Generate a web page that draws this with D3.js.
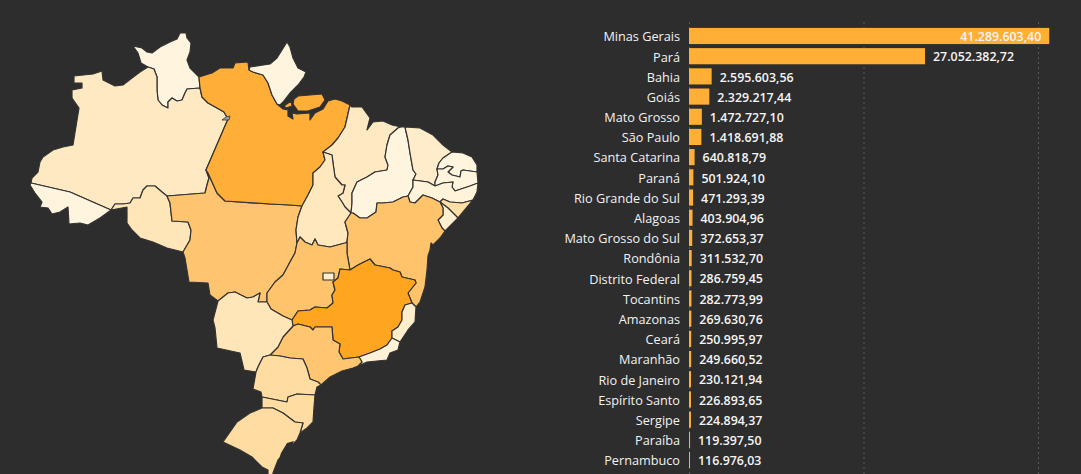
<!DOCTYPE html>
<html>
<head>
<meta charset="utf-8">
<script src="https://cdn.jsdelivr.net/npm/d3@7"></script>
<style>
  html, body { margin: 0; padding: 0; background: #2d2d2d; overflow: hidden; }
  text { font-family: "Open Sans", "Noto Sans", sans-serif; }
</style>
</head>
<body>
<svg id="chart" width="1081" height="474"></svg>
<script>
// bar values
const states = ["Minas Gerais", "Pará", "Bahia", "Goiás", "Mato Grosso", "São Paulo", "Santa Catarina", "Paraná",
  "Rio Grande do Sul", "Alagoas", "Mato Grosso do Sul", "Rondônia", "Distrito Federal", "Tocantins", "Amazonas",
  "Ceará", "Maranhão", "Rio de Janeiro", "Espírito Santo", "Sergipe", "Paraíba", "Pernambuco"];
const values = [41289603.40, 27052382.72, 2595603.56, 2329217.44, 1472727.10, 1418691.88, 640818.79, 501924.10,
  471293.39, 403904.96, 372653.37, 311532.70, 286759.45, 282773.99, 269630.76,
  250995.97, 249660.52, 230121.94, 226893.65, 224894.37, 119397.50, 116976.03];
const gridValues = [0, 20000000, 40000000];

const borders = {
  RR_N: [[148,67],[141,63],[138,53],[133,46],[142,48],[147,52],[152,53],[160,47],[170,42],[177,39],[180,33],[186,33],[187,38],[191,43],[190,52],[187,60],[190,68],[195,73],[199,77]],
  RR_PA: [[199,77],[200,88]],
  RR_AM: [[200,88],[187,89],[185,93],[182,100],[177,101],[172,98],[168,102],[168,108],[162,105],[158,100],[157,90],[157,77],[154,69],[148,67]],
  AM_N: [[148,67],[140,72],[132,78],[123,85],[115,86],[107,82],[103,80],[102,71],[93,74],[74,76],[74,83],[82,83],[82,88],[72,90],[72,98],[79,108],[73,145],[63,147],[53,150],[43,157],[40,162],[38,172],[32,178],[31,183]],
  AM_AC: [[31,183],[70,192],[111,210]],
  AM_RO: [[111,210],[115,204],[123,204],[130,203],[133,198],[140,198],[143,190],[147,186],[155,186],[162,192],[167,196]],
  AM_MT: [[167,196],[205,193],[207,185],[209,178],[206,170]],
  AM_PA: [[206,170],[228,119],[224,112],[217,108],[208,103],[202,97],[200,88]],
  AC_S: [[31,183],[30,185],[35,193],[42,202],[40,207],[48,208],[52,214],[60,212],[68,207],[69,224],[80,223],[88,225],[100,218],[111,210]],
  RO_W: [[111,210],[127,207],[127,223],[132,230],[140,238],[153,242],[167,248],[183,252]],
  RO_MT: [[167,196],[170,203],[172,221],[188,222],[191,230],[190,240],[183,252]],
  PA_MT: [[206,170],[208,173],[217,193],[225,201],[270,204],[290,205],[302,206]],
  MT_TO: [[302,206],[298,217],[296,230],[297,243]],
  MT_GO: [[297,243],[295,253],[290,262],[283,275],[275,282],[267,293],[267,302]],
  MT_MS: [[218,301],[228,293],[235,292],[247,298],[253,297],[260,293],[258,302],[267,302]],
  MT_W: [[183,252],[185,258],[187,270],[189,282],[208,283],[210,295],[218,301]],
  PA_N: [[199,77],[212,73],[220,68],[233,68],[235,63],[248,62],[249,70]],
  AP_PA: [[249,70],[253,72],[263,75],[268,83],[272,95],[277,104]],
  PA_E: [[277,104],[283,109],[288,110],[288,116],[293,119],[292,113],[297,114],[310,113],[310,120],[315,113],[323,109],[328,101],[335,99],[342,101],[350,105]],
  PA_MA: [[350,105],[345,127],[338,138],[332,145],[323,152]],
  PA_TO: [[323,152],[325,160],[320,167],[313,173],[313,185],[308,195],[302,206]],
  AP_C: [[249,70],[250,67],[270,64],[277,58],[287,42],[290,47],[293,58],[298,68],[306,72],[304,77],[298,85],[290,93],[283,102],[280,105],[277,104]],
  MARAJO: [[298,96],[322,94],[325,100],[320,107],[308,111],[298,111],[293,104],[294,99],[298,96]],
  ILHAS: [[284,106],[291,101],[292,106],[286,108],[284,106]],
  MA_C: [[350,105],[352,107],[362,107],[370,118],[367,130],[373,122],[383,121],[392,125],[401,127]],
  TO_MA: [[323,152],[332,155],[333,163],[335,177],[342,185],[345,185],[343,193],[338,196],[342,202],[345,207],[351,213]],
  MA_PI: [[351,213],[352,203],[352,193],[357,182],[367,177],[375,172],[387,170],[388,165],[385,157],[387,145],[390,135],[398,128],[401,127]],
  TO_GO: [[297,243],[300,237],[305,242],[312,245],[315,239],[318,245],[330,247],[345,243],[347,242]],
  BA_TO: [[347,242],[348,233],[345,222],[351,213]],
  PI_C: [[401,127],[405,127]],
  PI_CE: [[405,127],[408,140],[410,153],[413,170],[416,174],[413,180]],
  PI_PE: [[413,180],[413,187],[408,196]],
  PI_BA: [[408,196],[403,197],[393,202],[383,203],[377,203],[376,212],[367,218],[360,218],[353,213],[351,213]],
  CE_C: [[405,127],[420,128],[433,135],[443,145],[452,152]],
  CE_RN: [[452,152],[443,158],[439,163],[437,169]],
  CE_PB: [[437,169],[438,175],[435,182],[435,186]],
  CE_PE: [[435,186],[428,182],[413,180]],
  RN_C: [[452,152],[463,153],[472,157],[477,165],[477,172]],
  RN_PB: [[477,172],[463,170],[461,171],[460,177],[452,175],[448,172],[453,167],[448,166],[443,169],[437,169]],
  PB_C: [[477,172],[478,183]],
  PB_PE: [[478,183],[470,186],[458,190],[455,191],[452,187],[453,182],[443,183],[435,186]],
  PE_C: [[478,183],[477,192],[473,200]],
  PE_AL: [[473,200],[462,203],[450,202],[443,199],[440,202]],
  PE_BA: [[440,202],[432,198],[423,195],[415,203],[410,202],[408,196]],
  AL_C: [[473,200],[458,218]],
  AL_SE: [[458,218],[448,208],[440,202]],
  SE_C: [[445,231],[458,218]],
  BA_SE: [[440,202],[443,208],[443,215],[438,220],[442,228],[445,231]],
  BA_C: [[445,231],[440,238],[433,245],[431,243],[430,250],[428,256],[427,270],[425,287],[420,302],[416,307]],
  BA_ES: [[416,307],[412,303]],
  BA_MG: [[350,270],[358,265],[370,259],[375,265],[390,268],[393,270],[400,272],[402,277],[415,280],[416,283],[412,288],[408,293],[412,303]],
  GO_BA: [[347,242],[347,253],[350,270]],
  GO_MG: [[350,270],[340,269],[338,278],[333,282],[335,290],[332,295],[333,303],[327,308],[315,307],[310,310],[298,311],[292,320]],
  GO_MS: [[292,320],[283,316],[271,309],[267,302]],
  MG_ES: [[412,303],[405,305],[402,312],[402,320],[398,327],[392,331],[392,338]],
  MG_RJ: [[392,338],[387,345],[380,349],[370,353],[359,357]],
  MG_SP: [[359,357],[343,359],[339,352],[340,344],[333,340],[332,327],[325,327],[315,327],[313,330],[310,327],[298,324],[293,326]],
  MG_MS: [[293,326],[292,320]],
  ES_RJ: [[392,338],[400,342]],
  ES_C: [[400,342],[408,330],[415,322],[416,307]],
  RJ_C: [[400,342],[398,350],[390,353],[387,360],[377,361],[367,362],[358,366]],
  RJ_SP: [[358,366],[362,362],[359,357]],
  SP_MS: [[293,326],[283,337],[278,347],[270,355]],
  SP_PR: [[270,355],[280,356],[290,358],[303,359],[307,368],[310,379],[318,382],[321,385]],
  SP_C: [[321,385],[330,377],[342,371],[353,368],[358,366]],
  MS_PR: [[270,355],[263,357],[258,367],[256,372]],
  MS_C: [[218,301],[213,320],[215,328],[217,348],[240,353],[244,370],[256,372]],
  PR_C: [[321,385],[317,387],[315,395]],
  SC_PR: [[262,397],[277,400],[287,402],[288,397],[297,394],[315,395]],
  PR_W: [[256,372],[253,389],[261,392],[262,397]],
  SC_C: [[315,395],[314,407],[313,422],[307,428],[300,433]],
  SC_RS: [[262,408],[273,408],[283,413],[295,422],[303,423],[300,433]],
  SC_W: [[262,397],[262,408]],
  RS_C: [[300,433],[297,440],[278,460],[273,473],[271,482],[268,474],[268,470],[262,467],[252,457],[240,450],[223,442],[237,422],[250,413],[262,408]],
  DF: [[323,273],[334,273],[334,280],[323,280],[323,273]],
  LAGOON: [[287,443],[294,441],[291,448],[283,460],[278,462],[281,453],[287,443]],
  LAKE: [[222,120],[226,117],[230,116],[229,120],[222,120]]
};

// each state is a list of rings, "-" walks a border backwards
const stateRings = {
  RR: [["RR_N", "RR_PA", "RR_AM"]],
  AM: [["AM_N", "AM_AC", "AM_RO", "AM_MT", "AM_PA", "RR_AM"]],
  AC: [["AC_S", "-AM_AC"]],
  RO: [["RO_W", "-RO_MT", "-AM_RO"]],
  MT: [["AM_MT", "PA_MT", "MT_TO", "MT_GO", "-MT_MS", "-MT_W", "-RO_MT"]],
  PA: [["PA_N", "AP_PA", "PA_E", "PA_MA", "PA_TO", "-PA_MT", "AM_PA", "-RR_PA"], ["MARAJO"], ["ILHAS"]],
  AP: [["AP_C", "-AP_PA"]],
  MA: [["MA_C", "-MA_PI", "-TO_MA", "-PA_MA"]],
  TO: [["PA_TO", "MT_TO", "TO_GO", "BA_TO", "-TO_MA"]],
  PI: [["MA_PI", "PI_C", "PI_CE", "PI_PE", "PI_BA"]],
  CE: [["CE_C", "CE_RN", "CE_PB", "CE_PE", "-PI_CE"]],
  RN: [["RN_C", "RN_PB", "-CE_RN"]],
  PB: [["-RN_PB", "PB_C", "PB_PE", "-CE_PB"]],
  PE: [["PE_C", "PE_AL", "PE_BA", "-PI_PE", "-CE_PE", "-PB_PE"]],
  AL: [["AL_C", "AL_SE", "-PE_AL"]],
  SE: [["SE_C", "AL_SE", "BA_SE"]],
  BA: [["BA_C", "BA_ES", "-BA_MG", "-GO_BA", "BA_TO", "-PI_BA", "-PE_BA", "BA_SE"]],
  GO: [["TO_GO", "GO_BA", "GO_MG", "GO_MS", "-MT_GO"]],
  MG: [["BA_MG", "MG_ES", "MG_RJ", "MG_SP", "MG_MS", "-GO_MG"]],
  ES: [["BA_ES", "MG_ES", "ES_RJ", "ES_C"]],
  RJ: [["ES_RJ", "RJ_C", "RJ_SP", "-MG_RJ"]],
  SP: [["MG_SP", "SP_MS", "SP_PR", "SP_C", "RJ_SP"]],
  MS: [["MT_MS", "-GO_MS", "-MG_MS", "SP_MS", "MS_PR", "-MS_C"]],
  PR: [["SP_PR", "PR_C", "-SC_PR", "-PR_W", "-MS_PR"]],
  SC: [["SC_PR", "SC_C", "-SC_RS", "-SC_W"]],
  RS: [["SC_RS", "RS_C"]],
  DF: [["DF"]]
};

const stateFill = {
  RR: "#fff5de", AP: "#fff5de", AC: "#fff5de", PI: "#fff5de", RN: "#fff5de", PB: "#fff5de", PE: "#fff4da",
  AM: "#ffe9c2", MA: "#ffe9c2", TO: "#ffe8be", RO: "#ffe6b8", MS: "#ffe6b8", CE: "#ffeccb", SE: "#ffefd0",
  RJ: "#fff2d6", ES: "#ffeecb", DF: "#ffeecb", AL: "#ffdfa6", PR: "#ffdda2", SC: "#ffdda2", RS: "#ffdda2",
  MT: "#ffc46f", BA: "#ffc36c", GO: "#ffc36c", SP: "#ffc570", PA: "#ffae38", MG: "#ffa51f"
};

const bg = "#2d2d2d";
const svg = d3.select("#chart");

// map
const walk = name => name[0] === "-" ? borders[name.slice(1)].slice().reverse() : borders[name];
const features = Object.keys(stateRings).map(code => ({
  type: "Feature",
  properties: { code },
  geometry: {
    type: "MultiPolygon",
    coordinates: stateRings[code].map(ring => [ring.flatMap(walk)])
  }
}));

const projection = d3.geoIdentity().scale(1).translate([0, 0]);
const mapPath = d3.geoPath(projection);

const map = svg.append("g");
map.selectAll("path.state")
  .data(features)
  .enter()
  .append("path")
  .attr("class", "state")
  .attr("d", mapPath)
  .attr("fill", d => stateFill[d.properties.code])
  .attr("stroke", "#333333")
  .attr("stroke-width", 1.2)
  .attr("stroke-linejoin", "round");

map.append("path")
  .datum({ type: "Polygon", coordinates: [borders.LAGOON] })
  .attr("d", mapPath)
  .attr("fill", bg);

map.append("path")
  .datum({ type: "Polygon", coordinates: [borders.LAKE] })
  .attr("d", mapPath)
  .attr("fill", "#9aa3ad")
  .attr("stroke", "#333333")
  .attr("stroke-width", 0.8);

// bars
const x = d3.scaleLinear().domain([0, 40000000]).range([689, 1038]);
const y = d3.scaleBand().domain(states).range([25.9, 470.1]).paddingInner(0.2).paddingOuter(0.1);
const money = d3.formatLocale({ decimal: ",", thousands: ".", grouping: [3], currency: ["", ""] }).format(",.2f");

const grid = svg.append("g")
  .attr("transform", "translate(0,474)")
  .call(d3.axisTop(x).tickValues(gridValues).tickSize(454).tickFormat(""));
grid.select(".domain").remove();
grid.selectAll("line")
  .attr("stroke", "#5a5a5a")
  .attr("stroke-dasharray", "2 3");

const rows = states.map((name, i) => ({ name, value: values[i] }));

svg.append("g")
  .selectAll("rect")
  .data(rows)
  .enter()
  .append("rect")
  .attr("x", x(0))
  .attr("y", d => y(d.name))
  .attr("width", d => x(d.value) - x(0))
  .attr("height", y.bandwidth())
  .attr("fill", "#ffae36");

const yAxis = svg.append("g")
  .attr("transform", `translate(${x(0)},0)`)
  .call(d3.axisLeft(y).tickSize(0).tickPadding(9));
yAxis.select(".domain").remove();
yAxis.selectAll("text")
  .attr("fill", "#f2f2f2")
  .attr("font-size", 12.7)
  .attr("dy", "0.42em")
  .style("font-family", '"Open Sans", sans-serif');

svg.append("g")
  .selectAll("text")
  .data(rows)
  .enter()
  .append("text")
  .attr("x", (d, i) => i === 0 ? x(d.value) - 8 : x(d.value) + 8)
  .attr("y", d => y(d.name) + y.bandwidth() / 2)
  .attr("dy", "0.42em")
  .attr("text-anchor", (d, i) => i === 0 ? "end" : "start")
  .attr("fill", "#f5f5f5")
  .attr("font-size", 12.4)
  .attr("font-weight", 600)
  .text(d => money(d.value));
</script>
</body>
</html>
